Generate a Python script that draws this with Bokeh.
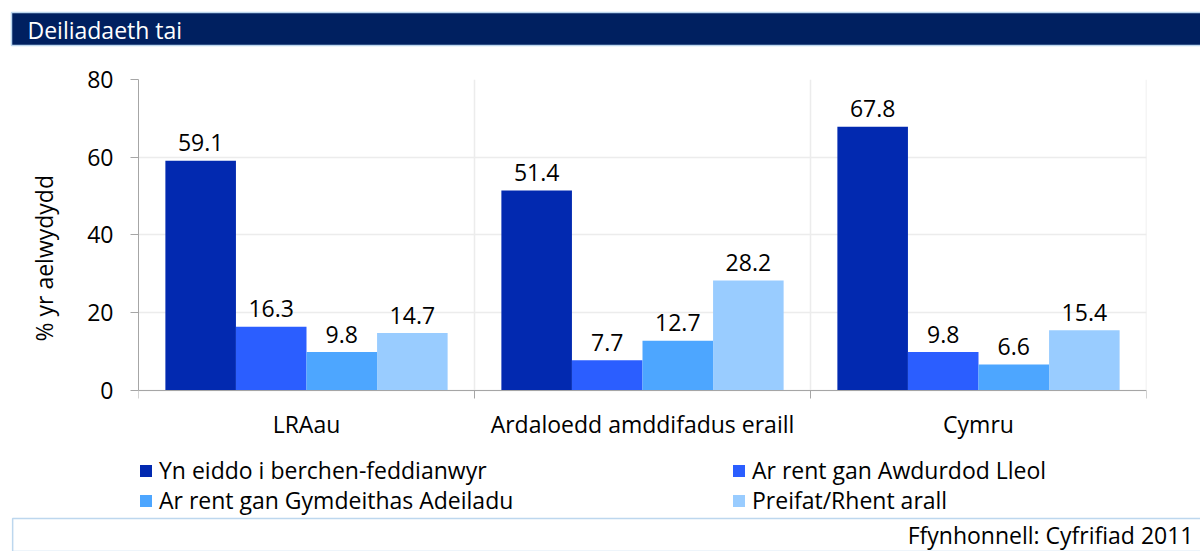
from bokeh.plotting import figure
from bokeh.models import (ColumnDataSource, Range1d, LinearAxis, FixedTicker,
                          Legend, LegendItem, Title)
from bokeh.transform import dodge
from bokeh.core.properties import value
from bokeh.embed import file_html
from bokeh.resources import INLINE

# ---- data ----
categories = ["LRAau", "Ardaloedd amddifadus eraill", "Cymru"]
series_names = ["Yn eiddo i berchen-feddianwyr", "Ar rent gan Awdurdod Lleol",
                "Ar rent gan Gymdeithas Adeiladu", "Preifat/Rhent arall"]
owner_occupied = [59.1, 51.4, 67.8]
local_authority = [16.3, 7.7, 9.8]
housing_assoc = [9.8, 12.7, 6.6]
private_other = [14.7, 28.2, 15.4]
y_ticks = [0, 20, 40, 60, 80]
title_text = "Deiliadaeth tai"
y_label = "% yr aelwydydd"
source_text = "Ffynhonnell: Cyfrifiad 2011"

# ---- style ----
colors = ["#0229B0", "#2B5EFF", "#4DA6FF", "#99CCFF"]
FONT = "Open Sans"
FS = "23px"
AXIS_GRAY = "#A6A6A6"
GRID_GRAY = "#ECECEC"
BORDER_BLUE = "#BDD7EE"
NAVY = "#002060"

# layout (pixels): plot frame spans y 79..518, value 0 sits at y=391
FRAME_TOP, FRAME_BOTTOM, ZERO_Y = 79, 518, 391
PX_PER_UNIT = (ZERO_Y - FRAME_TOP) / (y_ticks[-1] - y_ticks[0])
y_start = y_ticks[0] - (FRAME_BOTTOM - ZERO_Y) / PX_PER_UNIT

series = [owner_occupied, local_authority, housing_assoc, private_other]
keys = ["s0", "s1", "s2", "s3"]
data = {"cat": categories}
for k, s in zip(keys, series):
    data[k] = s
    data[k + "_lbl"] = [f"{v:.1f}" for v in s]
source = ColumnDataSource(data)

p = figure(width=1200, height=551, x_range=categories,
           y_range=Range1d(y_start, y_ticks[-1]),
           x_axis_location=None, title=None,
           min_border_left=138, min_border_right=54,
           min_border_top=FRAME_TOP, min_border_bottom=551 - FRAME_BOTTOM,
           toolbar_location=None, output_backend="svg")
p.outline_line_color = None
p.background_fill_color = "white"
p.border_fill_color = "white"

# y axis (line limited to the data span)
yax = p.yaxis[0]
yax.ticker = FixedTicker(ticks=y_ticks)
yax.bounds = (y_ticks[0], y_ticks[-1])
yax.axis_line_color = AXIS_GRAY
yax.major_tick_line_color = AXIS_GRAY
yax.major_tick_out = 8
yax.major_tick_in = 0
yax.minor_tick_line_color = None
yax.major_label_standoff = 17
yax.major_label_text_font = FONT
yax.major_label_text_font_size = FS
yax.major_label_text_color = "black"
p.ygrid.grid_line_color = GRID_GRAY
p.ygrid.grid_line_width = 1.5
for g in p.xgrid:
    g.visible = False

# x axis fixed at value 0: labels at category centres, ticks at category boundaries
centers = [i + 0.5 for i in range(len(categories))]
bounds = list(range(len(categories) + 1))
xax = LinearAxis(ticker=FixedTicker(ticks=centers, minor_ticks=bounds),
                 fixed_location=y_ticks[0],
                 major_label_overrides={c: lab for c, lab in zip(centers, categories)})
xax.axis_line_color = AXIS_GRAY
xax.major_tick_line_color = None
xax.minor_tick_line_color = AXIS_GRAY
xax.minor_tick_out = 8
xax.minor_tick_in = 0
xax.major_label_standoff = 10
xax.major_label_text_font = FONT
xax.major_label_text_font_size = FS
xax.major_label_text_color = "black"
p.add_layout(xax, "below")

# vertical separators between categories (over the value span only)
sep = bounds[1:]
p.segment(x0=sep, y0=[y_ticks[0]] * len(sep), x1=sep, y1=[y_ticks[-1]] * len(sep),
          line_color=GRID_GRAY, line_width=1.5, level="underlay")

# bars and value labels
bw = 0.21
offsets = [(-1.5 + i) * bw for i in range(4)]
renderers = []
for k, off, c in zip(keys, offsets, colors):
    r = p.vbar(x=dodge("cat", off, range=p.x_range), top=k, bottom=0, width=bw,
               source=source, fill_color=c, line_color=None)
    renderers.append(r)
    p.text(x=dodge("cat", off, range=p.x_range), y=k, text=k + "_lbl", source=source,
           text_align="center", text_baseline="alphabetic", y_offset=-18,
           text_font=value(FONT), text_font_size=FS, text_color="black")


# legend: two rows of two items each, inside the lower part of the frame
def legend_row(idx, vy):
    lg = Legend(items=[LegendItem(label=series_names[i], renderers=[renderers[i]]) for i in idx],
                location=(0, vy), orientation="horizontal",
                glyph_width=15, glyph_height=15, label_standoff=6, label_width=572,
                label_text_font=FONT, label_text_font_size=FS, label_text_color="black",
                label_height=20, spacing=0, padding=0, margin=0,
                border_line_color=None, background_fill_alpha=0)
    p.add_layout(lg)


legend_row([0, 1], 30)
legend_row([2, 3], 0)

# source note (its box border also draws the thin separator line above it)
p.add_layout(Title(text=source_text, align="right", offset=-67, vertical_align="bottom",
                   standoff=0, text_font=FONT, text_font_size=FS, text_font_style="normal",
                   text_color="black", border_line_color=BORDER_BLUE, border_line_width=1.5,
                   padding=dict(left=895, right=20, top=0, bottom=1)), "below")

# y axis title
p.add_layout(Title(text=y_label, align="left", offset=FRAME_BOTTOM - 343, vertical_align="middle",
                   standoff=47, text_font=FONT, text_font_size=FS, text_font_style="normal",
                   text_color="black"), "left")

# header bar: a spacer title next to the frame, then the banner title
p.add_layout(Title(text=" ", text_font_size="2px", standoff=30), "above")
p.add_layout(Title(text=title_text, align="left", offset=-127, vertical_align="bottom",
                   standoff=0, text_font=FONT, text_font_size=FS, text_font_style="normal",
                   text_color="white", background_fill_color=NAVY,
                   border_line_color=BORDER_BLUE, border_line_width=1.5,
                   padding=dict(left=16, right=1200, top=1, bottom=0)), "above")

open("out.html", "w").write(file_html(p, INLINE))
